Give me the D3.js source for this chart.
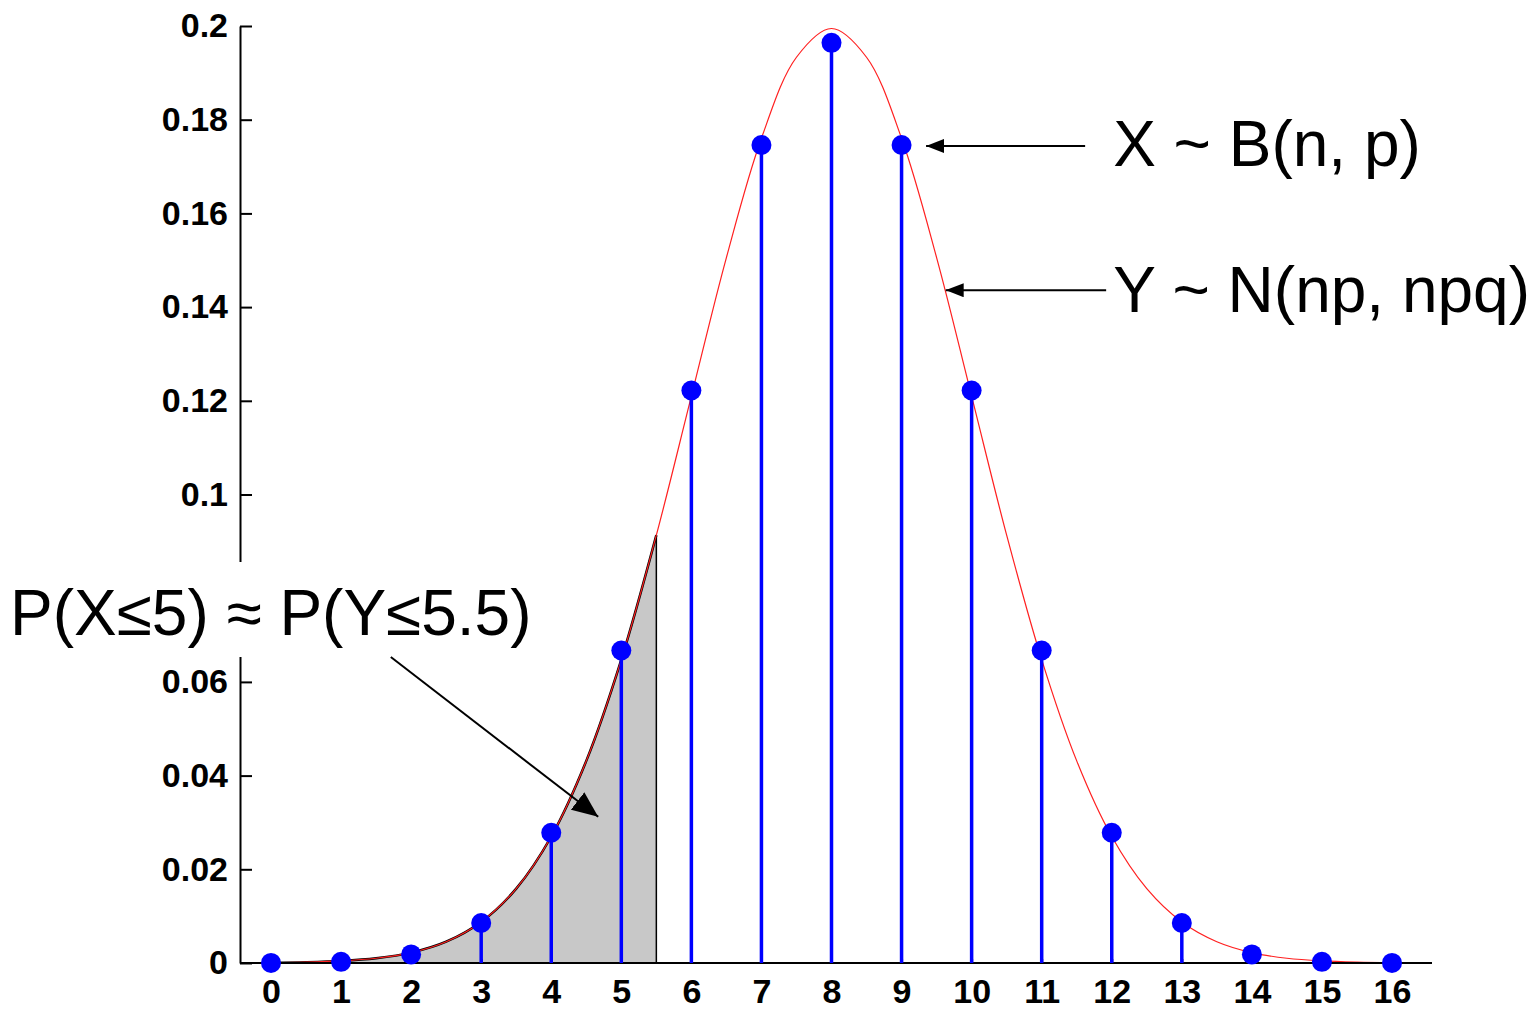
<!DOCTYPE html>
<meta charset="utf-8">
<title>Normal approximation to the binomial</title>
<script src="https://d3js.org/d3.v7.min.js"></script>
<style>
  body { margin: 0; background: #fff; }
  text { font-family: Arial, "Liberation Sans", sans-serif; }
</style>
<div id="chart"></div>
<script>
  // X ~ B(16, 0.5)
  const ks = [0, 1, 2, 3, 4, 5, 6, 7, 8, 9, 10, 11, 12, 13, 14, 15, 16];
  const pmf = [0.0000153, 0.000244, 0.00183, 0.00854, 0.0278, 0.0667, 0.1222, 0.1746,
    0.1964, 0.1746, 0.1222, 0.0667, 0.0278, 0.00854, 0.00183, 0.000244, 0.0000153];

  // Y ~ N(8, 4) density, sampled every 0.5
  const curveX = [0, 0.5, 1, 1.5, 2, 2.5, 3, 3.5, 4, 4.5, 5, 5.5, 6, 6.5, 7, 7.5, 8,
    8.5, 9, 9.5, 10, 10.5, 11, 11.5, 12, 12.5, 13, 13.5, 14, 14.5, 15, 15.5, 16];
  const curveY = [0.0000669, 0.000176, 0.000436, 0.00101, 0.00222, 0.00455, 0.00876,
    0.01587, 0.02700, 0.04314, 0.06476, 0.09132, 0.12099, 0.15057, 0.17603, 0.19333,
    0.19947, 0.19333, 0.17603, 0.15057, 0.12099, 0.09132, 0.06476, 0.04314, 0.02700,
    0.01587, 0.00876, 0.00455, 0.00222, 0.00101, 0.000436, 0.000176, 0.0000669];

  const cutoff = 5.5;
  // 0.08 sits under the label box in the original, so it isn't drawn
  const yTicks = [0, 0.02, 0.04, 0.06, 0.1, 0.12, 0.14, 0.16, 0.18, 0.2];

  const W = 1539, H = 1010;
  const svg = d3.select("#chart").append("svg")
    .attr("width", W).attr("height", H);

  const x = d3.scaleLinear().domain([0, 16]).range([271, 1392]);
  const y = d3.scaleLinear().domain([0, 0.2]).range([963, 26]);

  const pts = curveX.map((v, i) => [v, curveY[i]]);

  // shaded area up to 5.5
  const shade = pts.filter(d => d[0] <= cutoff);
  const area = d3.area()
    .x(d => x(d[0])).y0(y(0)).y1(d => y(d[1]))
    .curve(d3.curveCatmullRom);
  svg.append("path")
    .attr("d", area(shade))
    .attr("fill", "#c8c8c8")
    .attr("stroke", "none");
  svg.append("path")
    .attr("d", d3.line().x(d => x(d[0])).y(d => y(d[1])).curve(d3.curveCatmullRom)(shade))
    .attr("fill", "none")
    .attr("stroke", "#000")
    .attr("stroke-width", 2.5);
  svg.append("line")
    .attr("x1", x(cutoff)).attr("x2", x(cutoff))
    .attr("y1", y(0)).attr("y2", y(shade[shade.length - 1][1]))
    .attr("stroke", "#000").attr("stroke-width", 1.5);

  // normal curve
  svg.append("path")
    .attr("d", d3.line().x(d => x(d[0])).y(d => y(d[1])).curve(d3.curveCatmullRom)(pts))
    .attr("fill", "none")
    .attr("stroke", "#ff2020")
    .attr("stroke-width", 1.2);

  // axes
  const xAxis = svg.append("g")
    .attr("transform", `translate(0,${y(0)})`)
    .call(d3.axisBottom(x).tickValues(ks).tickFormat(d3.format("d"))
      .tickSizeInner(-4).tickSizeOuter(0).tickPadding(16));
  xAxis.select(".domain").remove();
  svg.append("line")
    .attr("x1", 240).attr("x2", 1432)
    .attr("y1", y(0)).attr("y2", y(0))
    .attr("stroke", "#000").attr("stroke-width", 2);

  const yAxis = svg.append("g")
    .attr("transform", "translate(240,0)")
    .call(d3.axisLeft(y).tickValues(yTicks).tickFormat(d => String(+d.toFixed(2)))
      .tickSizeInner(-12).tickSizeOuter(0).tickPadding(12));
  yAxis.select(".domain").attr("stroke-width", 2);

  svg.selectAll(".tick line").attr("stroke-width", 2);
  svg.selectAll(".tick text")
    .attr("font-size", 34)
    .attr("font-weight", "bold")
    .attr("fill", "#000");

  // stems and points
  const stems = ks.map((k, i) => ({ k, p: pmf[i] }));
  svg.selectAll(".stem").data(stems).join("line")
    .attr("class", "stem")
    .attr("x1", d => x(d.k)).attr("x2", d => x(d.k))
    .attr("y1", y(0)).attr("y2", d => y(d.p))
    .attr("stroke", "#0000ff").attr("stroke-width", 3.5);
  svg.selectAll(".dot").data(stems).join("circle")
    .attr("class", "dot")
    .attr("cx", d => x(d.k)).attr("cy", d => y(d.p))
    .attr("r", 10)
    .attr("fill", "#0000ff");

  // annotations
  const defs = svg.append("defs");
  function marker(id, w, h) {
    defs.append("marker")
      .attr("id", id)
      .attr("viewBox", `0 0 ${w} ${h}`)
      .attr("refX", w).attr("refY", h / 2)
      .attr("markerWidth", w).attr("markerHeight", h)
      .attr("markerUnits", "userSpaceOnUse")
      .attr("orient", "auto")
      .append("path")
      .attr("d", `M0,0L${w},${h / 2}L0,${h}Z`)
      .attr("fill", "#000");
  }
  marker("arr", 18, 14);
  marker("arrBig", 26, 22);

  function arrow(x1, y1, x2, y2, m) {
    svg.append("line")
      .attr("x1", x(x1)).attr("y1", y(y1))
      .attr("x2", x(x2)).attr("y2", y(y2))
      .attr("stroke", "#000").attr("stroke-width", 2)
      .attr("marker-end", `url(#${m})`);
  }

  arrow(11.62, 0.1744, 9.35, 0.1744, "arr");
  arrow(11.92, 0.1436, 9.63, 0.1436, "arr");

  svg.append("text")
    .attr("x", x(12.02)).attr("y", 166)
    .attr("font-size", 64)
    .text("X ~ B(n, p)");
  svg.append("text")
    .attr("x", x(12.02)).attr("y", 312)
    .attr("font-size", 64)
    .text("Y ~ N(np, npq)");

  // label box sits over the y axis
  svg.append("rect")
    .attr("x", 0).attr("y", 562)
    .attr("width", 535).attr("height", 95)
    .attr("fill", "#fff");
  svg.append("text")
    .attr("x", 10).attr("y", 635)
    .attr("font-size", 64)
    .text("P(X\u22645) \u2248 P(Y\u22645.5)");

  arrow(1.71, 0.0653, 4.67, 0.0312, "arrBig");
</script>
